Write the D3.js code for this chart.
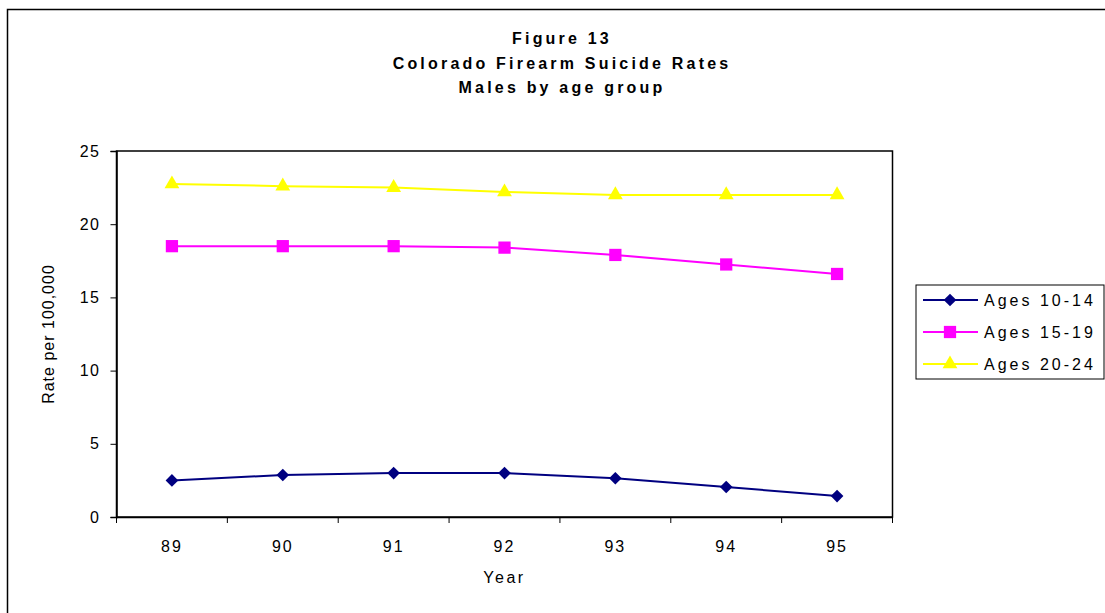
<!DOCTYPE html>
<html>
<head>
<meta charset="utf-8">
<script src="https://cdn.jsdelivr.net/npm/d3@7"></script>
<style>
  body { margin: 0; background: #fff; }
  svg text { font-family: "Liberation Sans", Arial, sans-serif; fill: #000; }
</style>
</head>
<body>
<div class="viz"></div>
<script>
// Data
const years = ["89", "90", "91", "92", "93", "94", "95"];
const ages1014 = [2.5, 2.87, 3.0, 3.0, 2.65, 2.05, 1.43];
const ages1519 = [18.5, 18.5, 18.5, 18.4, 17.9, 17.25, 16.6];
const ages2024 = [22.75, 22.6, 22.5, 22.2, 22.0, 22.0, 22.0];
const yTicks = [0, 5, 10, 15, 20, 25];

// Diamond = square turned 45 degrees
const series = [
  { name: "Ages 10-14", values: ages1014, color: "#000080", symbol: d3.symbolSquare, size: 80, rotate: 45 },
  { name: "Ages 15-19", values: ages1519, color: "#ff00ff", symbol: d3.symbolSquare, size: 150, rotate: 0 },
  { name: "Ages 20-24", values: ages2024, color: "#ffff00", symbol: d3.symbolTriangle, size: 95, rotate: 0 },
];

const totalWidth = 1105;
const totalHeight = 613;
const margin = { top: 151, right: 212.5, bottom: 96, left: 116.5 };
const width = totalWidth - margin.left - margin.right;
const height = totalHeight - margin.top - margin.bottom;
const fontFamily = "Liberation Sans, Arial, sans-serif";

const svg = d3
  .select(".viz")
  .append("svg")
  .attr("width", totalWidth)
  .attr("height", totalHeight);

// Outer chart border (cut off at right and bottom)
svg.append("rect")
  .attr("x", 7.5)
  .attr("y", 9.5)
  .attr("width", 1110)
  .attr("height", 620)
  .attr("fill", "none")
  .attr("stroke", "#000")
  .attr("stroke-width", 1.5);

// Title
const titleLines = ["Figure 13", "Colorado Firearm Suicide Rates", "Males by age group"];
svg.selectAll(".title")
  .data(titleLines)
  .enter()
  .append("text")
  .attr("class", "title")
  .attr("x", 562)
  .attr("y", (d, i) => 44 + i * 24.5)
  .attr("text-anchor", "middle")
  .style("font-size", "16px")
  .style("font-weight", "bold")
  .style("letter-spacing", "3.2px")
  .text((d) => d);

const g = svg
  .append("g")
  .attr("transform", `translate(${margin.left},${margin.top})`);

// Scales
const xScale = d3.scaleBand().domain(years).range([0, width]);
const yScale = d3.scaleLinear().domain([0, 25]).range([height, 0]);

// Plot area frame
g.append("rect")
  .attr("width", width)
  .attr("height", height)
  .attr("fill", "none")
  .attr("stroke", "#000")
  .attr("stroke-width", 1.5);

// Y axis
const yAxis = g.append("g")
  .call(d3.axisLeft(yScale).tickValues(yTicks).tickSize(6).tickPadding(10));
yAxis.select(".domain").attr("stroke-width", 1.5);
yAxis.selectAll("text")
  .style("font-size", "16px")
  .style("letter-spacing", "1.5px")
  .style("font-family", fontFamily);

// X axis with ticks at category boundaries
const xAxis = g.append("g")
  .attr("transform", `translate(0,${height})`)
  .call(d3.axisBottom(xScale).tickSize(0).tickPadding(24));
xAxis.select(".domain").attr("stroke-width", 1.5);
xAxis.selectAll("text")
  .style("font-size", "16px")
  .style("letter-spacing", "2px")
  .style("font-family", fontFamily);
xAxis.selectAll(".boundary")
  .data(d3.range(years.length + 1))
  .enter()
  .append("line")
  .attr("x1", (i) => i * xScale.bandwidth())
  .attr("x2", (i) => i * xScale.bandwidth())
  .attr("y1", 0)
  .attr("y2", 6)
  .attr("stroke", "#000");

// Axis titles
svg.append("text")
  .attr("x", margin.left + width / 2)
  .attr("y", 583)
  .attr("text-anchor", "middle")
  .style("font-size", "16px")
  .style("letter-spacing", "2.5px")
  .text("Year");

svg.append("text")
  .attr("transform", `translate(54,${margin.top + height / 2}) rotate(-90)`)
  .attr("text-anchor", "middle")
  .style("font-size", "16px")
  .style("letter-spacing", "1px")
  .text("Rate per 100,000");

// Lines and markers
const line = d3.line()
  .x((d, i) => xScale(years[i]) + xScale.bandwidth() / 2)
  .y((d) => yScale(d));

series.forEach((s) => {
  g.append("path")
    .datum(s.values)
    .attr("d", line)
    .attr("fill", "none")
    .attr("stroke", s.color)
    .attr("stroke-width", 2);

  g.selectAll(null)
    .data(s.values)
    .enter()
    .append("path")
    .attr("d", d3.symbol().type(s.symbol).size(s.size))
    .attr("transform", (d, i) =>
      `translate(${xScale(years[i]) + xScale.bandwidth() / 2},${yScale(d)}) rotate(${s.rotate})`)
    .attr("fill", s.color);
});

// Legend
const legend = svg.append("g").attr("transform", "translate(916,285)");
legend.append("rect")
  .attr("width", 188)
  .attr("height", 94)
  .attr("fill", "#fff")
  .attr("stroke", "#000");

const items = legend.selectAll(".item")
  .data(series)
  .enter()
  .append("g")
  .attr("transform", (d, i) => `translate(0,${15 + i * 32})`);

items.append("line")
  .attr("x1", 7)
  .attr("x2", 62)
  .attr("stroke", (d) => d.color)
  .attr("stroke-width", 2);

items.append("path")
  .attr("d", (d) => d3.symbol().type(d.symbol).size(d.size)())
  .attr("transform", (d) => `translate(34,0) rotate(${d.rotate})`)
  .attr("fill", (d) => d.color);

items.append("text")
  .attr("x", 68)
  .attr("dy", "0.35em")
  .style("font-size", "16px")
  .style("letter-spacing", "3px")
  .text((d) => d.name);
</script>
</body>
</html>
